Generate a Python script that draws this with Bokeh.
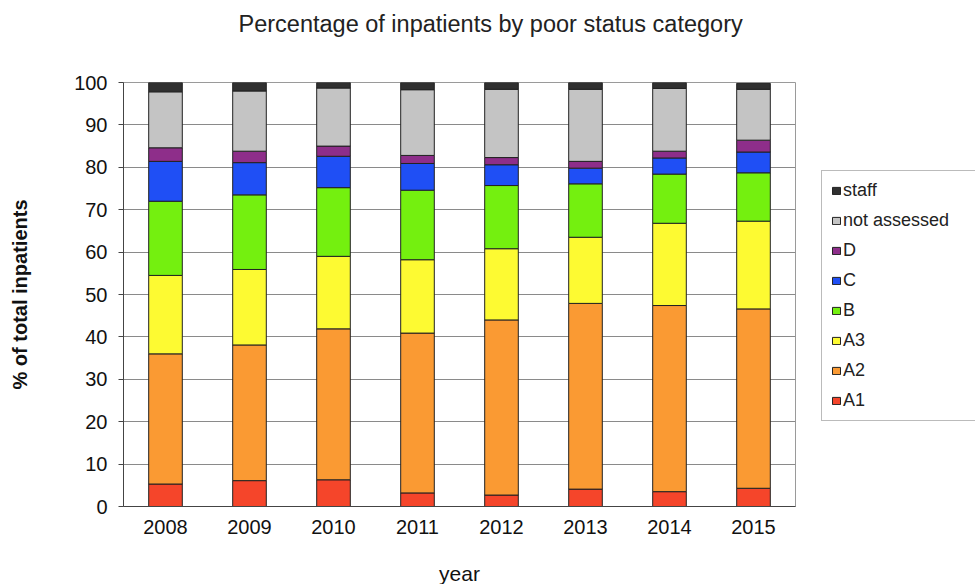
from bokeh.plotting import figure
from bokeh.models import Legend, LegendItem, FactorRange, Range1d, ColumnDataSource, FixedTicker
from bokeh.embed import file_html
from bokeh.resources import INLINE

years = ["2008", "2009", "2010", "2011", "2012", "2013", "2014", "2015"]
A1 = [5.3, 6.1, 6.3, 3.2, 2.7, 4.1, 3.5, 4.3]
A2 = [30.7, 32.0, 35.6, 37.7, 41.3, 43.8, 43.9, 42.3]
A3 = [18.5, 17.8, 17.1, 17.3, 16.8, 15.6, 19.4, 20.7]
B = [17.5, 17.6, 16.2, 16.4, 14.9, 12.6, 11.6, 11.4]
C = [9.4, 7.6, 7.4, 6.3, 4.9, 3.7, 3.8, 4.9]
D = [3.2, 2.7, 2.4, 1.9, 1.7, 1.6, 1.6, 2.8]
not_assessed = [13.2, 14.2, 13.7, 15.5, 16.1, 17.0, 14.8, 12.0]
staff = [2.2, 2.0, 1.3, 1.7, 1.6, 1.6, 1.4, 1.4]

series_names = ["A1", "A2", "A3", "B", "C", "D", "not assessed", "staff"]
series_vals = [A1, A2, A3, B, C, D, not_assessed, staff]
colors = ["#f5452a", "#fa9a33", "#fdfa32", "#74f00f", "#1f4ff5", "#8e2e8a", "#c4c4c4", "#303030"]
title_text = "Percentage of inpatients by poor status category"

data = {"year": years}
for n, v in zip(series_names, series_vals):
    data[n] = v
source = ColumnDataSource(data)

FONT = "Liberation Sans"

p = figure(x_range=FactorRange(*years), y_range=Range1d(0, 100),
           frame_width=672, frame_height=424, output_backend="svg", toolbar_location=None,
           min_border_left=123, min_border_right=180, min_border_top=82, min_border_bottom=78)

renderers = p.vbar_stack(series_names, x="year", width=0.4, source=source,
                         fill_color=colors, line_color="#222222", line_width=1)

p.title.text = title_text + "\n "
p.title.align = "left"
p.title.vertical_align = "top"
p.title.offset = 115
p.title.text_font = FONT
p.title.text_font_size = "23.5px"
p.title.text_font_style = "normal"
p.title.text_color = "#222222"
p.title.text_line_height = 1.5
p.title.standoff = 10

p.yaxis.ticker = FixedTicker(ticks=list(range(0, 101, 10)))
p.yaxis.major_label_text_font = FONT
p.yaxis.major_label_text_font_size = "20px"
p.yaxis.major_label_text_color = "#111111"
p.yaxis.major_label_standoff = 11
p.yaxis.axis_label = "% of total inpatients"
p.yaxis.axis_label_text_font = FONT
p.yaxis.axis_label_text_font_size = "20px"
p.yaxis.axis_label_text_font_style = "bold"
p.yaxis.axis_label_text_color = "#111111"
p.yaxis.axis_label_standoff = 40
p.yaxis.minor_tick_line_color = None
p.yaxis.major_tick_out = 5
p.yaxis.major_tick_in = 0
p.yaxis.axis_line_color = "#444444"
p.yaxis.major_tick_line_color = "#444444"

p.xaxis.major_label_text_font = FONT
p.xaxis.major_label_text_font_size = "20px"
p.xaxis.major_label_text_color = "#111111"
p.xaxis.major_tick_line_color = None
p.xaxis.major_tick_out = 0
p.xaxis.axis_line_color = "#444444"
p.xaxis.axis_label = "year"
p.xaxis.axis_label_text_font = FONT
p.xaxis.axis_label_text_font_size = "21px"
p.xaxis.axis_label_text_font_style = "normal"
p.xaxis.axis_label_text_color = "#111111"
p.xaxis.axis_label_standoff = 25
p.xaxis.major_label_standoff = 13

p.xgrid.grid_line_color = None
p.ygrid.grid_line_color = "#8a8a8a"
p.ygrid.grid_line_width = 1
p.outline_line_color = "#9a9a9a"
p.outline_line_width = 1

items = [LegendItem(label=n, renderers=[r]) for n, r in zip(series_names, renderers)]
items.reverse()
legend = Legend(items=items, location=(26, 85), orientation="vertical")
legend.label_text_font = FONT
legend.label_text_font_size = "18px"
legend.label_text_color = "#222222"
legend.glyph_width = 10
legend.glyph_height = 9
legend.label_height = 20
legend.spacing = 9
legend.label_standoff = 2
legend.padding = 9
legend.margin = 0
legend.border_line_color = "#777777"
legend.border_line_width = 1
legend.background_fill_alpha = 1
legend.label_width = 130
p.add_layout(legend, "right")

open("out.html", "w").write(file_html(p, INLINE))
